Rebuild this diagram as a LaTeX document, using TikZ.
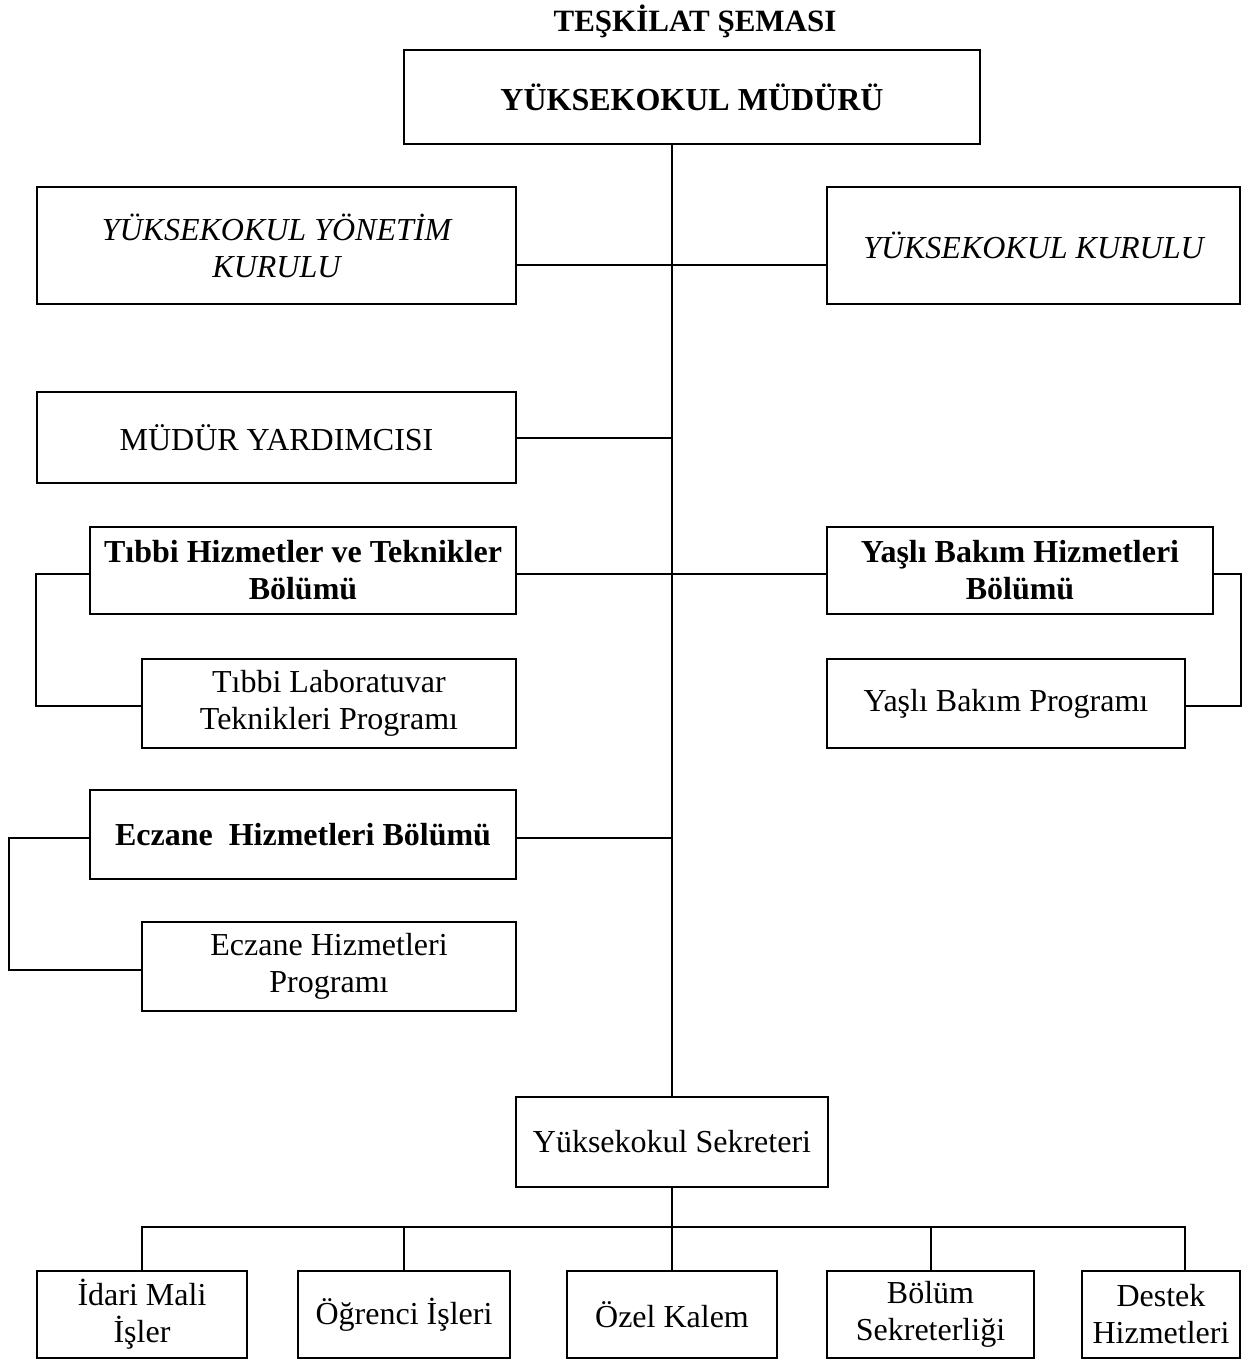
\documentclass[tikz,border=0pt]{standalone}
\usepackage{fontspec}
\setmainfont{Liberation Serif}
\begin{document}
\begin{tikzpicture}[x=1pt,y=-1pt,
  box/.style={draw,line width=2.2pt,inner sep=0pt,align=center,font=\fontsize{32}{37}\selectfont},
  conn/.style={line width=2pt}]
\useasboundingbox (0,0) rectangle (1244,1360);
\newcommand{\bx}[6]{\node[box,minimum width=#3-#2,minimum height=#5-#4,#6] (#1) at ({(#2+#3)/2},{(#4+#5)/2})}
\node[font=\fontsize{31}{37}\selectfont\bfseries] (title) at (695,21) {TEŞKİLAT ŞEMASI};
\bx{mud}{404}{980}{50}{144}{font=\fontsize{32}{37}\selectfont\bfseries} {YÜKSEKOKUL MÜDÜRÜ};
\bx{yk}{37}{516}{187}{304}{font=\fontsize{32}{37}\selectfont\itshape} {YÜKSEKOKUL YÖNETİM\\KURULU};
\bx{kur}{827}{1240}{187}{304}{font=\fontsize{32}{37}\selectfont\itshape} {YÜKSEKOKUL KURULU};
\bx{my}{37}{516}{392}{483}{} {MÜDÜR YARDIMCISI};
\bx{th}{90}{516}{527}{614}{font=\fontsize{32}{37}\selectfont\bfseries} {Tıbbi Hizmetler ve Teknikler\\Bölümü};
\bx{tl}{142}{516}{659}{748}{} {Tıbbi Laboratuvar\\Teknikleri Programı};
\bx{yb}{827}{1213}{527}{614}{font=\fontsize{32}{37}\selectfont\bfseries} {Yaşlı Bakım Hizmetleri\\Bölümü};
\bx{yp}{827}{1185}{659}{748}{} {Yaşlı Bakım Programı};
\bx{ec}{90}{516}{790}{879}{font=\fontsize{32}{37}\selectfont\bfseries} {Eczane\ \ Hizmetleri Bölümü};
\bx{ep}{142}{516}{922}{1011}{} {Eczane Hizmetleri\\Programı};
\bx{sek}{516}{828}{1097}{1187}{} {Yüksekokul Sekreteri};
\bx{b1}{37}{247}{1271}{1358}{} {İdari Mali\\İşler};
\bx{b2}{298}{510}{1271}{1358}{} {Öğrenci İşleri};
\bx{b3}{567}{777}{1271}{1358}{} {Özel Kalem};
\bx{b4}{827}{1034}{1271}{1358}{} {Bölüm\\Sekreterliği};
\bx{b5}{1082}{1240}{1271}{1358}{} {Destek\\Hizmetleri};
% trunk
\coordinate (kj) at (672,265);
\draw[conn] (mud.south -| sek.north) -- (sek.north);
\draw[conn] (yk.east |- kj) -- (kj);
\draw[conn] (kur.west |- kj) -- (kj);
\draw[conn] (my.east) -- (my.east -| sek.north);
\draw[conn] ([yshift=-3]th.east) -- ([yshift=-3]th.east -| sek.north);
\draw[conn] ([yshift=-3]yb.west) -- ([yshift=-3]yb.west -| sek.north);
\draw[conn] ([yshift=-3]ec.east) -- ([yshift=-3]ec.east -| sek.north);
% brackets
\draw[conn] ([yshift=-3]th.west) -- ++(-53,0) |- ([yshift=-2]tl.west);
\draw[conn] ([yshift=-3]ec.west) -- ++(-80,0) |- ([yshift=-3]ep.west);
\draw[conn] ([yshift=-3]yb.east) -- ++(27,0) |- ([yshift=-2]yp.east);
% bottom
\coordinate (bj) at (672,1227);
\coordinate (d5) at (1185,1227);
\draw[conn] (sek.south) -- (bj);
\draw[conn] (b1.north) |- (d5) -- (d5 |- b5.north);
\draw[conn] (b2.north) -- (b2.north |- bj);
\draw[conn] (b3.north) -- (b3.north |- bj);
\draw[conn] (b4.north) -- (b4.north |- bj);
\end{tikzpicture}
\end{document}
